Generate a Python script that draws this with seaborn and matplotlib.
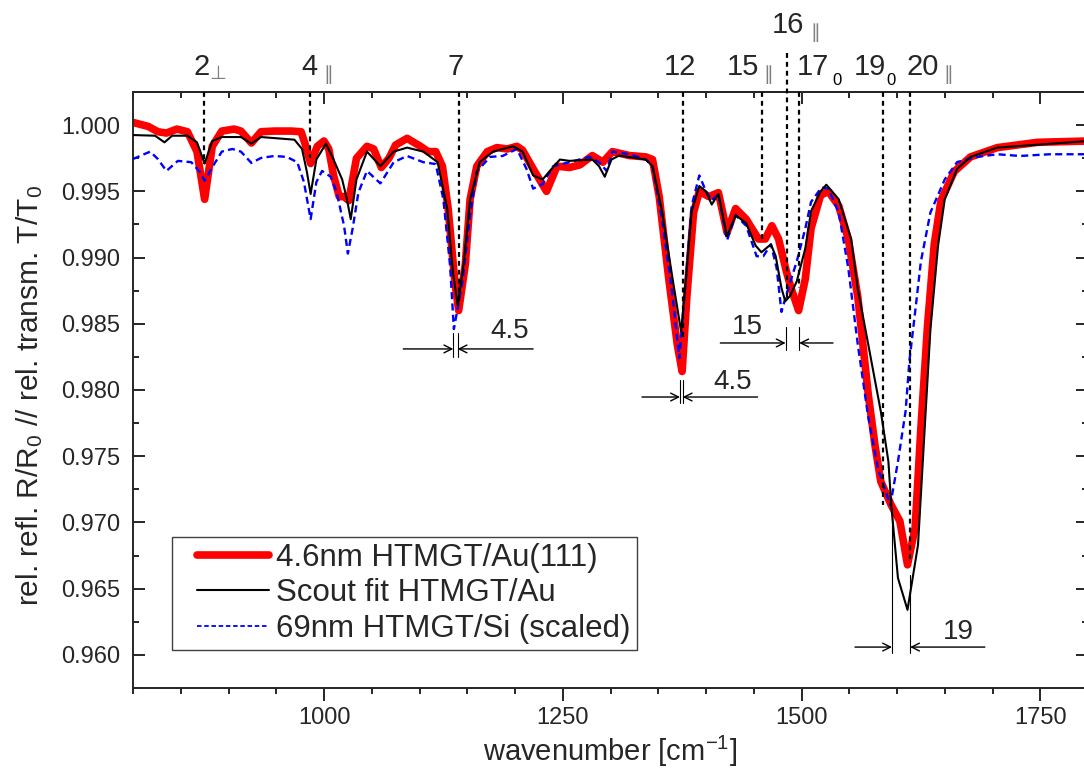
import matplotlib
matplotlib.use("Agg")
import matplotlib.pyplot as plt
import seaborn as sns
import numpy as np
import pandas as pd
from matplotlib.lines import Line2D
from matplotlib.legend_handler import HandlerLine2D
from matplotlib.ticker import MultipleLocator, FormatStrFormatter

# ---------------- data ----------------
red_pts = [(800, 1.0002), (816, 0.9999), (826, 0.9995), (835, 0.9994), (846, 0.9997), (857, 0.9995),
           (867, 0.9980), (875, 0.9944), (883, 0.9984), (893, 0.99955), (906, 0.9997), (913, 0.99955),
           (924, 0.99865), (934, 0.9995), (948, 0.99955), (966, 0.99955), (976, 0.9995), (981, 0.9984),
           (986, 0.9971), (993, 0.9984), (1000, 0.9988), (1005, 0.9982), (1010, 0.9962), (1016, 0.9946),
           (1021, 0.9946), (1026, 0.9943), (1034, 0.9975), (1045, 0.9984), (1052, 0.9982), (1060, 0.9968),
           (1068, 0.9975), (1075, 0.9985), (1087, 0.9990), (1101, 0.9984), (1109, 0.9980), (1117, 0.9980),
           (1124, 0.9969), (1130, 0.9937), (1137, 0.9882), (1141, 0.9860), (1148, 0.9895), (1153, 0.9944),
           (1160, 0.9969), (1171, 0.9980), (1181, 0.9983), (1192, 0.9982), (1202, 0.9984), (1208, 0.9981),
           (1219, 0.9967), (1233, 0.9950), (1244, 0.9969), (1257, 0.9968), (1268, 0.9970), (1281, 0.9977),
           (1292, 0.9972), (1302, 0.9980), (1320, 0.9977), (1337, 0.9976), (1344, 0.9974), (1351, 0.9946),
           (1361, 0.9884), (1370, 0.9834), (1375, 0.9814), (1380, 0.9871), (1387, 0.9934), (1393, 0.9950),
           (1403, 0.9946), (1413, 0.9949), (1422, 0.9919), (1431, 0.9937), (1442, 0.9929), (1455, 0.9914),
           (1462, 0.9914), (1469, 0.9924), (1476, 0.9914), (1484, 0.9890), (1489, 0.9877), (1497, 0.9860),
           (1504, 0.9884), (1510, 0.9922), (1520, 0.9947), (1528, 0.9950), (1539, 0.9939), (1549, 0.9914),
           (1559, 0.9870), (1570, 0.9796), (1577, 0.9758), (1583, 0.9731), (1594, 0.9713), (1603, 0.9701),
           (1611, 0.9668), (1619, 0.9696), (1625, 0.9771), (1632, 0.9849), (1639, 0.9910), (1646, 0.9943),
           (1660, 0.9965), (1677, 0.9976), (1705, 0.9983), (1747, 0.9987), (1800, 0.9988)]

black_pts = [(800, 0.99925), (823, 0.9992), (833, 0.9987), (841, 0.9992), (857, 0.9992), (867, 0.9987),
             (875, 0.9971), (883, 0.9988), (893, 0.9991), (913, 0.9991), (924, 0.9986), (934, 0.9991),
             (969, 0.9989), (977, 0.9982), (982, 0.9965), (986, 0.9948), (992, 0.9974), (1002, 0.9986),
             (1010, 0.9974), (1019, 0.9959), (1024, 0.9944), (1028, 0.9929), (1034, 0.9959), (1045, 0.9980),
             (1059, 0.9969), (1073, 0.9980), (1087, 0.9983), (1104, 0.9980), (1119, 0.9972), (1129, 0.9937),
             (1135, 0.9889), (1140, 0.9864), (1146, 0.9894), (1153, 0.9944), (1163, 0.9972), (1177, 0.9980),
             (1198, 0.9984), (1208, 0.9980), (1219, 0.9962), (1229, 0.9959), (1236, 0.9965), (1247, 0.9974),
             (1257, 0.9973), (1281, 0.9974), (1288, 0.9969), (1294, 0.9961), (1301, 0.9974), (1309, 0.9977),
             (1337, 0.9974), (1344, 0.9969), (1354, 0.9935), (1365, 0.9884), (1374, 0.9844), (1379, 0.9884),
             (1385, 0.9935), (1393, 0.9954), (1400, 0.9950), (1406, 0.9940), (1413, 0.9948), (1422, 0.9916),
             (1431, 0.9932), (1442, 0.9926), (1452, 0.9909), (1458, 0.9904), (1468, 0.9910), (1473, 0.9901),
             (1479, 0.9877), (1483, 0.9867), (1488, 0.9871), (1495, 0.9882), (1504, 0.9907), (1510, 0.9935),
             (1520, 0.9950), (1526, 0.9955), (1539, 0.9944), (1552, 0.9914), (1559, 0.9876), (1570, 0.9834),
             (1577, 0.9807), (1583, 0.9784), (1591, 0.9746), (1594, 0.9713), (1601, 0.9658), (1611, 0.9634),
             (1622, 0.9683), (1629, 0.9771), (1635, 0.9846), (1643, 0.9909), (1650, 0.9944), (1663, 0.9967),
             (1677, 0.9976), (1705, 0.9983), (1800, 0.9988)]

blue_pts = [(800, 0.99744), (818, 0.9980), (826, 0.99744), (835, 0.99654), (847, 0.9973), (861, 0.9972),
            (870, 0.99646), (875, 0.9958), (882, 0.9967), (893, 0.9980), (904, 0.9982), (913, 0.9980),
            (924, 0.99714), (934, 0.99752), (948, 0.99767), (961, 0.9976), (972, 0.9972), (979, 0.9957),
            (986, 0.9929), (992, 0.9957), (998, 0.99654), (1007, 0.9961), (1013, 0.9950), (1021, 0.9924),
            (1025, 0.9903), (1030, 0.9922), (1036, 0.9949), (1045, 0.99654), (1059, 0.9956), (1073, 0.9972),
            (1087, 0.99767), (1104, 0.9972), (1117, 0.99706), (1125, 0.9944), (1132, 0.9894), (1136, 0.9846),
            (1145, 0.9882), (1153, 0.9932), (1160, 0.9965), (1174, 0.9976), (1187, 0.99767), (1202, 0.9982),
            (1212, 0.9967), (1219, 0.9952), (1229, 0.99556), (1240, 0.9969), (1257, 0.9972), (1278, 0.9976),
            (1288, 0.9972), (1296, 0.99654), (1302, 0.9980), (1320, 0.9978), (1337, 0.9974), (1344, 0.9969),
            (1354, 0.9929), (1365, 0.9871), (1372, 0.9824), (1379, 0.9884), (1385, 0.9939), (1393, 0.9962),
            (1400, 0.9950), (1406, 0.9943), (1413, 0.9948), (1422, 0.9913), (1431, 0.9932), (1442, 0.9924),
            (1453, 0.9901), (1460, 0.9901), (1468, 0.9910), (1474, 0.9892), (1479, 0.9859), (1486, 0.98765),
            (1495, 0.9897), (1504, 0.9922), (1510, 0.9942), (1521, 0.9953), (1528, 0.9952), (1539, 0.9934),
            (1549, 0.9892), (1559, 0.9834), (1570, 0.9779), (1580, 0.9741), (1593, 0.9713), (1601, 0.9746),
            (1609, 0.9784), (1613, 0.9822), (1619, 0.9859), (1625, 0.9897), (1635, 0.9934), (1650, 0.9959),
            (1663, 0.99721), (1684, 0.9976), (1705, 0.9978), (1729, 0.99767), (1760, 0.9978), (1800, 0.9978)]

series_labels = ["4.6nm HTMGT/Au(111)", "Scout fit HTMGT/Au", "69nm HTMGT/Si (scaled)"]

# band assignments (number, mark, line position, line bottom, label x, label row)
band_names = ["2", "4", "7", "12", "15", "16", "17", "19", "20"]
band_marks = ["\u22a5", "\u2225", "", "", "\u2225", "\u2225", "0", "0", "\u2225"]
band_pos = [874, 985, 1141, 1376, 1459, 1485, 1497, 1585, 1614]
band_bottom = [0.9971, 0.9975, 0.9866, 0.9838, 0.9914, 0.9867, 0.9877, 0.9713, 0.9671]
band_label_x = [872, 985, 1138, 1373, 1439, 1486, 1512, 1572, 1627]
band_mark_x = [889, 1004, None, None, 1465, 1514, 1537, 1594, 1654]
band_row = [0, 0, 0, 0, 0, 1, 0, 0, 0]

# shift dimension markers
shift_text = ["4.5", "4.5", "15", "19"]
shift_left = [1135.4, 1372.8, 1483.4, 1594.8]
shift_right = [1139.9, 1375.6, 1497.6, 1613.7]
shift_top_l = [0.98430, 0.98075, 0.98476, 0.97109]
shift_top_r = [0.98430, 0.98075, 0.98476, 0.96603]
shift_bottom = [0.98249, 0.97902, 0.98302, 0.96014]
shift_arrow_y = [0.98310, 0.97947, 0.98355, 0.96059]
shift_from_l = [1083, 1333, 1415, 1556]
shift_from_r = [1219, 1454, 1533, 1692]
shift_text_x = [1194, 1428, 1443, 1664]
shift_text_y = [0.98445, 0.98060, 0.98476, 0.96173]

# ---------------- styling ----------------
sns.set_style("ticks")
plt.rcParams["font.family"] = ["Liberation Sans", "DejaVu Sans"]
plt.rcParams["mathtext.default"] = "regular"
plt.rcParams["axes.linewidth"] = 1.4

fig = plt.figure(figsize=(10.84, 7.76), dpi=100)
ax = fig.add_axes([133 / 1084, 1 - 688 / 776, 955 / 1084, 596 / 776])

def frame(pts):
    return pd.DataFrame(pts, columns=["wavenumber", "value"])

sns.lineplot(data=frame(red_pts), x="wavenumber", y="value", ax=ax, color="#ff0000",
             lw=5.5, sort=False, estimator=None, zorder=2, solid_capstyle="round",
             solid_joinstyle="round")
sns.lineplot(data=frame(blue_pts), x="wavenumber", y="value", ax=ax, color="#0000ff",
             lw=1.7, sort=False, estimator=None, zorder=3, linestyle=(0, (3, 1.8)))
sns.lineplot(data=frame(black_pts), x="wavenumber", y="value", ax=ax, color="black",
             lw=1.5, sort=False, estimator=None, zorder=4, solid_joinstyle="round")

ax.set_xlim(800, 1800)
ax.set_ylim(0.9575, 1.0025)
ax.xaxis.set_major_locator(MultipleLocator(250))
ax.xaxis.set_minor_locator(MultipleLocator(50))
ax.yaxis.set_major_locator(MultipleLocator(0.005))
ax.yaxis.set_minor_locator(MultipleLocator(0.0025))
ax.yaxis.set_major_formatter(FormatStrFormatter("%.3f"))

ax.tick_params(axis="x", which="both", direction="out", top=False, bottom=True, width=1.4)
ax.tick_params(axis="x", which="major", length=9, labelsize=17, pad=5)
ax.tick_params(axis="x", which="minor", length=4.5)
ax.tick_params(axis="y", which="both", direction="in", left=True, right=True, width=1.4)
ax.tick_params(axis="y", which="major", length=8.5, labelsize=17, pad=9)
ax.tick_params(axis="y", which="minor", length=4)

top = ax.secondary_xaxis("top")
top.xaxis.set_major_locator(MultipleLocator(250))
top.xaxis.set_minor_locator(MultipleLocator(50))
top.tick_params(which="both", direction="in", labeltop=False, width=1.4)
top.tick_params(which="major", length=8.5)
top.tick_params(which="minor", length=4.5)
top.spines["top"].set_linewidth(1.4)

ax.set_xlabel("wavenumber [cm$^{-1}$]", fontsize=21)
ax.xaxis.set_label_coords(0.5, -0.107)
ax.xaxis.label.set_va("center")
ax.set_ylabel("rel. refl. R/R$_0$ // rel. transm. T/T$_0$", fontsize=21.5)
ax.yaxis.set_label_coords(-0.108, 0.49)
ax.yaxis.label.set_va("center")

# band assignment lines and labels
row_y = [1.00439, 1.00756]
line_top = [1.0025, 1.00544]
for name, mark, xp, yb, lx, mx, row in zip(band_names, band_marks, band_pos, band_bottom,
                                            band_label_x, band_mark_x, band_row):
    ax.plot([xp, xp], [line_top[row], yb], color="black", lw=1.6,
            linestyle=(0, (2.2, 1.8)), zorder=6, clip_on=False)
    ax.text(lx, row_y[row], name, fontsize=21, ha="center", va="center", clip_on=False)
    if mark:
        if mark == "0":
            ax.text(mx, row_y[row] - 0.0010, mark, fontsize=12, ha="center", va="center",
                    color="black", clip_on=False)
        else:
            ax.text(mx, row_y[row] - 0.0006, mark, fontsize=14, ha="center", va="center",
                    color="#7f7f7f", clip_on=False)

# shift dimension markers
for t, xl, xr, tl, tr, yb, ya, fl, fr, tx, ty in zip(shift_text, shift_left, shift_right, shift_top_l,
                                                       shift_top_r, shift_bottom, shift_arrow_y,
                                                       shift_from_l, shift_from_r, shift_text_x,
                                                       shift_text_y):
    ax.plot([xl, xl], [tl, yb], color="black", lw=0.8, zorder=5)
    ax.plot([xr, xr], [tr, yb], color="black", lw=0.8, zorder=5)
    ax.annotate("", xy=(xl, ya), xytext=(fl, ya),
                arrowprops=dict(arrowstyle="->", lw=1.0, color="black", mutation_scale=14,
                                shrinkA=0, shrinkB=0), zorder=5)
    ax.annotate("", xy=(xr, ya), xytext=(fr, ya),
                arrowprops=dict(arrowstyle="->", lw=1.0, color="black", mutation_scale=14,
                                shrinkA=0, shrinkB=0), zorder=5)
    ax.text(tx, ty, t, fontsize=20, ha="center", va="center")


class InsetHandler(HandlerLine2D):
    """Legend line drawn in the right part of the handle box (left padding like the reference)."""
    def create_artists(self, legend, orig_handle, xdescent, ydescent, width, height, fontsize, trans):
        artists = super().create_artists(legend, orig_handle, xdescent, ydescent, width, height,
                                         fontsize, trans)
        for a in artists:
            xd = np.asarray(a.get_xdata(), dtype=float)
            if xd.size >= 2:
                a.set_xdata(np.linspace(xd[0] + 0.2 * (xd[-1] - xd[0]), xd[-1], xd.size))
        return artists


handles = [Line2D([], [], color="#ff0000", lw=5.5, solid_capstyle="round"),
           Line2D([], [], color="black", lw=1.5),
           Line2D([], [], color="#0000ff", lw=1.3, linestyle=(0, (2.5, 1.5)))]
leg = ax.legend(handles, series_labels, loc="lower left", bbox_to_anchor=(0.041, 0.064),
                borderaxespad=0, fontsize=22.5, frameon=True, fancybox=False, framealpha=1,
                edgecolor="#404040", borderpad=0.2, labelspacing=0.17, handlelength=2.9,
                handletextpad=0.22, handler_map={Line2D: InsetHandler()})
leg.get_frame().set_linewidth(1.0)

fig.savefig("out.png", dpi=100)
